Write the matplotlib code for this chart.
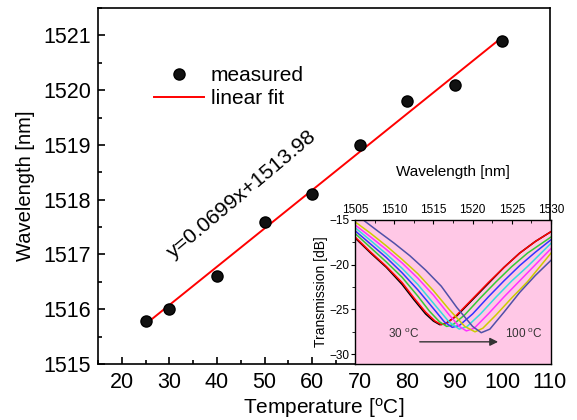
import matplotlib
matplotlib.use("Agg")
import matplotlib.pyplot as plt
import numpy as np
from matplotlib.ticker import MultipleLocator

plt.rcParams['font.family'] = ['Liberation Sans', 'DejaVu Sans']
plt.rcParams['mathtext.fontset'] = 'custom'
plt.rcParams['mathtext.rm'] = 'Liberation Sans'
plt.rcParams['mathtext.it'] = 'Liberation Sans:italic'

# ---------------- data ----------------
temperature = [25, 30, 40, 50, 60, 70, 80, 90, 100]
wavelength = [1515.79, 1516.0, 1516.6, 1517.59, 1518.1, 1519.0, 1519.81, 1520.1, 1520.9]
fit_slope = 0.0699
fit_intercept = 1513.98
fit_range = [25, 100]

# inset spectra (wavelength nm, transmission dB), 30..100 C
spec_30_x = [1505, 1507, 1509, 1511, 1512.5, 1514, 1515, 1515.8, 1516.5, 1518, 1520, 1522, 1524, 1526, 1528, 1530]
spec_30_y = [-17.0, -18.7, -20.3, -22.2, -23.9, -25.5, -26.3, -26.7, -26.6, -25.7, -23.9, -22.1, -20.3, -18.7, -17.4, -16.3]
spec_40_x = [1505, 1507, 1509, 1511, 1512.5, 1514, 1515.2, 1516.0, 1516.8, 1518, 1520, 1522, 1524, 1526, 1528, 1530]
spec_40_y = [-16.9, -18.6, -20.2, -22.0, -23.7, -25.3, -26.3, -26.7, -26.5, -25.6, -23.8, -22.0, -20.3, -18.7, -17.4, -16.3]
spec_50_x = [1505, 1507, 1509, 1511, 1513, 1514.5, 1515.8, 1516.7, 1517.5, 1519, 1521, 1523, 1525, 1527, 1530]
spec_50_y = [-16.5, -18.1, -19.7, -21.4, -23.5, -25.2, -26.4, -26.9, -26.7, -25.6, -23.7, -21.9, -20.2, -18.7, -16.9]
spec_60_x = [1505, 1507, 1509, 1511, 1513, 1515, 1516.4, 1517.4, 1518.3, 1520, 1522, 1524, 1526, 1528, 1530]
spec_60_y = [-16.2, -17.7, -19.2, -20.9, -22.8, -24.9, -26.4, -27.0, -26.8, -25.5, -23.6, -21.8, -20.1, -18.6, -17.2]
spec_70_x = [1505, 1507, 1509, 1511, 1513, 1515, 1517, 1518.3, 1519.3, 1521, 1523, 1525, 1527, 1530]
spec_70_y = [-15.85, -17.3, -18.8, -20.4, -22.2, -24.3, -26.4, -27.2, -26.9, -25.5, -23.6, -21.8, -20.2, -17.6]
spec_80_x = [1505, 1507, 1509, 1511, 1513, 1515, 1517, 1518.3, 1519.2, 1520.2, 1522, 1524, 1526, 1528, 1530]
spec_80_y = [-15.55, -16.9, -18.3, -19.8, -21.5, -23.4, -25.6, -26.9, -27.4, -27.1, -25.5, -23.6, -21.8, -20.0, -18.2]
spec_90_x = [1505, 1507, 1509, 1511, 1513, 1515, 1517, 1519, 1520.3, 1521.3, 1523, 1525, 1527, 1530]
spec_90_y = [-15.2, -16.5, -17.9, -19.4, -21.0, -22.9, -25.0, -26.9, -27.5, -27.1, -25.6, -23.7, -21.9, -18.7]
spec_100_x = [1505, 1506.2, 1508, 1510, 1512, 1514, 1516, 1518, 1520, 1521.1, 1522.2, 1524, 1526, 1528, 1530]
spec_100_y = [-14.1, -15.1, -16.3, -17.6, -19.0, -20.6, -22.4, -24.8, -26.9, -27.6, -27.2, -25.3, -23.1, -21.2, -19.5]

spectra = [(spec_30_x, spec_30_y), (spec_40_x, spec_40_y), (spec_50_x, spec_50_y),
           (spec_60_x, spec_60_y), (spec_70_x, spec_70_y), (spec_80_x, spec_80_y),
           (spec_90_x, spec_90_y), (spec_100_x, spec_100_y)]
spec_colors = ['#000000', '#ff0000', '#33cc33', '#3333ff', '#33dddd', '#ff33ff', '#cccc00', '#5050a8']

# ---------------- figure ----------------
fig = plt.figure(figsize=(5.77, 4.2), dpi=100)
ax = fig.add_axes([0.1698, 0.1333, 0.7834, 0.8476])

fit_x = np.array(fit_range, dtype=float)
ax.plot(fit_x, fit_slope * fit_x + fit_intercept, color='red', lw=1.4, label='linear fit', zorder=2)
ax.plot(temperature, wavelength, 'o', color='black', mfc='#111111', ms=8, label='measured', zorder=3)

ax.set_xlim(15, 110)
ax.set_ylim(1515, 1521.5)
ax.xaxis.set_major_locator(MultipleLocator(10))
ax.xaxis.set_minor_locator(MultipleLocator(5))
ax.yaxis.set_major_locator(MultipleLocator(1))
ax.yaxis.set_minor_locator(MultipleLocator(0.5))
ax.set_xticks(range(20, 111, 10))
ax.tick_params(which='both', direction='in', top=False, right=False, labelsize=15.5, width=1.2)
ax.tick_params(axis='x', which='both', pad=6)
ax.tick_params(axis='y', which='both', pad=5)
ax.tick_params(which='major', length=5)
ax.tick_params(which='minor', length=3)
for s in ax.spines.values():
    s.set_linewidth(1.2)
ax.set_xlabel(r'Temperature [$^{\mathrm{o}}$C]', fontsize=15, labelpad=2)
ax.set_ylabel('Wavelength [nm]', fontsize=14.5, labelpad=6)

h, l = ax.get_legend_handles_labels()
ax.legend([h[1], h[0]], [l[1], l[0]], loc='upper left', bbox_to_anchor=(0.105, 0.86),
          frameon=False, fontsize=15, handlelength=2.4, handletextpad=0.35, labelspacing=0.2,
          borderaxespad=0)

ax.text(45.25, 1518.1, 'y=0.0699x+1513.98', rotation=40, fontsize=15.3,
        ha='center', va='center', rotation_mode='anchor')

# ---------------- inset ----------------
ax_in = fig.add_axes([0.6153, 0.1333, 0.3397, 0.3429])
ax_in.set_facecolor('#ffc8e6')
for (sx, sy), c in zip(spectra, spec_colors):
    ax_in.plot(sx, sy, color=c, lw=1.1)
ax_in.set_xlim(1505, 1530)
ax_in.set_ylim(-31.1, -15)
ax_in.xaxis.set_major_locator(MultipleLocator(5))
ax_in.xaxis.set_minor_locator(MultipleLocator(2.5))
ax_in.yaxis.set_major_locator(MultipleLocator(5))
ax_in.yaxis.set_minor_locator(MultipleLocator(2.5))
ax_in.xaxis.tick_top()
ax_in.xaxis.set_label_position('top')
ax_in.tick_params(axis='x', which='both', direction='in', top=True, bottom=False, labelsize=8.5, pad=3)
ax_in.tick_params(axis='y', which='both', direction='out', labelsize=8.5, pad=1)
ax_in.tick_params(which='major', length=3)
ax_in.tick_params(which='minor', length=2)
ax_in.set_xlabel('Wavelength [nm]', fontsize=11, labelpad=20)
ax_in.set_ylabel('Transmission [dB]', fontsize=10, labelpad=1)
for s in ax_in.spines.values():
    s.set_linewidth(1.0)
ax_in.annotate('', xy=(1523.6, -28.62), xytext=(1512.9, -28.62),
               arrowprops=dict(arrowstyle='-|>', color='#333333', lw=1.0, mutation_scale=12))
ax_in.text(1509.2, -27.8, r'30 $^{\mathrm{o}}$C', fontsize=8.5, ha='left', va='center', color='#333333')
ax_in.text(1524.1, -27.8, r'100 $^{\mathrm{o}}$C', fontsize=8.5, ha='left', va='center', color='#333333')

fig.savefig('out.png', dpi=100)
